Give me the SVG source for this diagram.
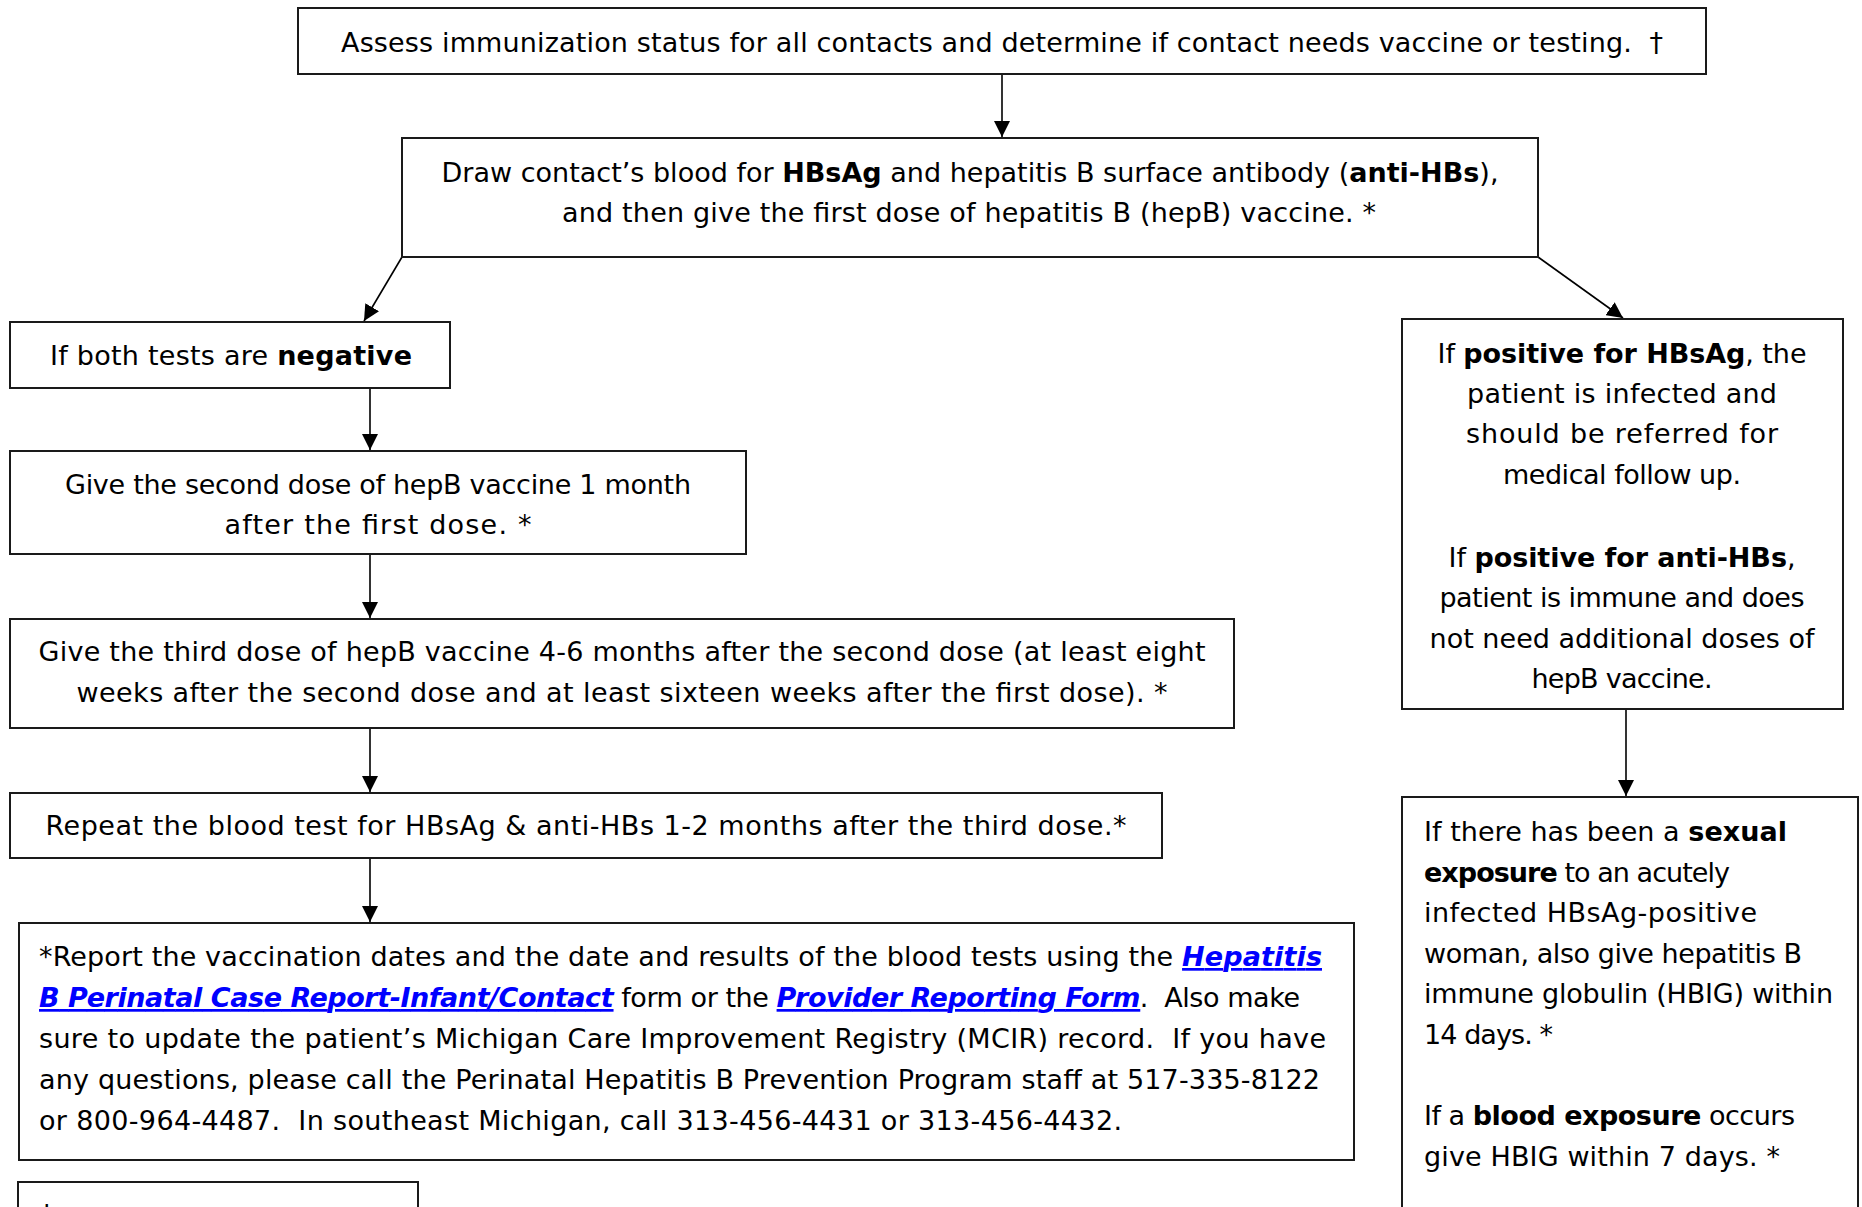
<svg xmlns="http://www.w3.org/2000/svg" width="1862" height="1207" viewBox="0 0 1862 1207">
<style>
  .box { fill: #ffffff; stroke: #1a1a1a; stroke-width: 2; }
  .t { font-family: "DejaVu Sans", "Liberation Sans", sans-serif; font-size: 27px; fill: #000000; white-space: pre; }
  .c { text-anchor: middle; }
  .b { font-weight: bold; }
  .lnk { font-weight: bold; font-style: italic; fill: #0000ff; text-decoration: underline; }
  .conn { stroke: #000000; stroke-width: 1.6; fill: none; marker-end: url(#arr); }
</style>
<defs>
  <marker id="arr" markerUnits="userSpaceOnUse" markerWidth="18" markerHeight="16" refX="16" refY="8" orient="auto">
    <path d="M0,0 L16,8 L0,16 Z" fill="#000000"/>
  </marker>
</defs>
<rect x="0" y="0" width="1862" height="1207" fill="#ffffff"/>

<g id="connectors">
  <line class="conn" x1="1002" y1="74" x2="1002" y2="137"/>
  <line class="conn" x1="402" y1="257" x2="364" y2="321"/>
  <line class="conn" x1="1538" y1="257" x2="1623" y2="318"/>
  <line class="conn" x1="370" y1="388" x2="370" y2="450"/>
  <line class="conn" x1="370" y1="554" x2="370" y2="618"/>
  <line class="conn" x1="370" y1="728" x2="370" y2="792"/>
  <line class="conn" x1="370" y1="858" x2="370" y2="922"/>
  <line class="conn" x1="1626" y1="709" x2="1626" y2="796"/>
</g>

<g id="n1">
  <rect class="box" x="298" y="8" width="1408" height="66"/>
  <text class="t c" x="1002" y="52" textLength="1322" lengthAdjust="spacing">Assess immunization status for all contacts and determine if contact needs vaccine or testing.  †</text>
</g>

<g id="n2">
  <rect class="box" x="402" y="138" width="1136" height="119"/>
  <text class="t c" x="970" y="182" textLength="1057" lengthAdjust="spacing">Draw contact’s blood for <tspan class="b">HBsAg</tspan> and hepatitis B surface antibody (<tspan class="b">anti-HBs</tspan>),</text>
  <text class="t c" x="969" y="222" textLength="814" lengthAdjust="spacing">and then give the first dose of hepatitis B (hepB) vaccine. *</text>
</g>

<g id="n3">
  <rect class="box" x="10" y="322" width="440" height="66"/>
  <text class="t c" x="231" y="365" textLength="362" lengthAdjust="spacing">If both tests are <tspan class="b">negative</tspan></text>
</g>

<g id="n4">
  <rect class="box" x="10" y="451" width="736" height="103"/>
  <text class="t c" x="378" y="494" textLength="626" lengthAdjust="spacing">Give the second dose of hepB vaccine 1 month</text>
  <text class="t c" x="378" y="534" textLength="307" lengthAdjust="spacing">after the first dose. *</text>
</g>

<g id="n5">
  <rect class="box" x="10" y="619" width="1224" height="109"/>
  <text class="t c" x="622" y="661" textLength="1167" lengthAdjust="spacing">Give the third dose of hepB vaccine 4-6 months after the second dose (at least eight</text>
  <text class="t c" x="622" y="702" textLength="1091" lengthAdjust="spacing">weeks after the second dose and at least sixteen weeks after the first dose). *</text>
</g>

<g id="n6">
  <rect class="box" x="10" y="793" width="1152" height="65"/>
  <text class="t c" x="586" y="835" textLength="1081" lengthAdjust="spacing">Repeat the blood test for HBsAg &amp; anti-HBs 1-2 months after the third dose.*</text>
</g>

<g id="n7">
  <rect class="box" x="19" y="923" width="1335" height="237"/>
  <text class="t" x="39" y="966" textLength="1283" lengthAdjust="spacing">*Report the vaccination dates and the date and results of the blood tests using the <tspan class="lnk">Hepatitis</tspan></text>
  <text class="t" x="39" y="1007" textLength="1261" lengthAdjust="spacing"><tspan class="lnk">B Perinatal Case Report-Infant/Contact</tspan> form or the <tspan class="lnk">Provider Reporting Form</tspan>.  Also make</text>
  <text class="t" x="39" y="1048" textLength="1287" lengthAdjust="spacing">sure to update the patient’s Michigan Care Improvement Registry (MCIR) record.  If you have</text>
  <text class="t" x="39" y="1089" textLength="1281" lengthAdjust="spacing">any questions, please call the Perinatal Hepatitis B Prevention Program staff at 517-335-8122</text>
  <text class="t" x="39" y="1130" textLength="1083" lengthAdjust="spacing">or 800-964-4487.  In southeast Michigan, call 313-456-4431 or 313-456-4432.</text>
</g>

<g id="n8">
  <rect class="box" x="1402" y="319" width="441" height="390"/>
  <text class="t c" x="1622" y="363" textLength="369" lengthAdjust="spacing">If <tspan class="b">positive for HBsAg</tspan>, the</text>
  <text class="t c" x="1622" y="403" textLength="310" lengthAdjust="spacing">patient is infected and</text>
  <text class="t c" x="1622" y="443" textLength="312" lengthAdjust="spacing">should be referred for</text>
  <text class="t c" x="1622" y="484" textLength="238" lengthAdjust="spacing">medical follow up.</text>
  <text class="t c" x="1622" y="567" textLength="347" lengthAdjust="spacing">If <tspan class="b">positive for anti-HBs</tspan>,</text>
  <text class="t c" x="1622" y="607" textLength="365" lengthAdjust="spacing">patient is immune and does</text>
  <text class="t c" x="1622" y="648" textLength="385" lengthAdjust="spacing">not need additional doses of</text>
  <text class="t c" x="1622" y="688" textLength="181" lengthAdjust="spacing">hepB vaccine.</text>
</g>

<g id="n9">
  <rect class="box" x="1402" y="797" width="456" height="430"/>
  <text class="t" x="1424" y="841" textLength="363" lengthAdjust="spacing">If there has been a <tspan class="b">sexual</tspan></text>
  <text class="t" x="1424" y="882" textLength="306" lengthAdjust="spacing"><tspan class="b">exposure</tspan> to an acutely</text>
  <text class="t" x="1424" y="922" textLength="333" lengthAdjust="spacing">infected HBsAg-positive</text>
  <text class="t" x="1424" y="963" textLength="378" lengthAdjust="spacing">woman, also give hepatitis B</text>
  <text class="t" x="1424" y="1003" textLength="409" lengthAdjust="spacing">immune globulin (HBIG) within</text>
  <text class="t" x="1424" y="1044" textLength="129" lengthAdjust="spacing">14 days. *</text>
  <text class="t" x="1424" y="1125" textLength="371" lengthAdjust="spacing">If a <tspan class="b">blood exposure</tspan> occurs</text>
  <text class="t" x="1424" y="1166" textLength="356" lengthAdjust="spacing">give HBIG within 7 days. *</text>
</g>

<g id="n10">
  <rect class="box" x="18" y="1182" width="400" height="60"/>
  <text class="t" x="40" y="1224">†</text>
</g>
</svg>
